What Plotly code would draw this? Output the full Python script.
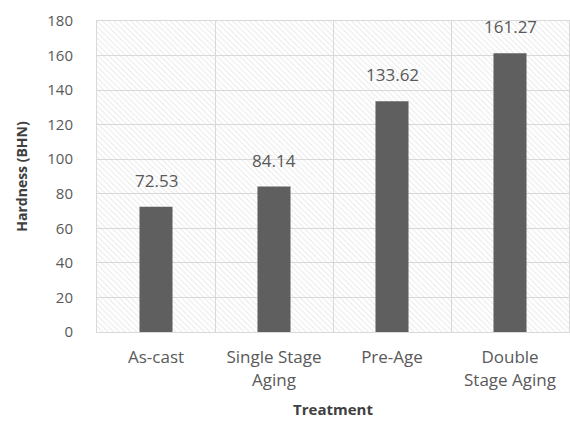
import plotly.graph_objects as go

# Hardness by heat-treatment condition
treatments = ["As-cast", "Single Stage<br>Aging", "Pre-Age", "Double<br>Stage Aging"]
hardness = [72.53, 84.14, 133.62, 161.27]
y_ticks = [0, 20, 40, 60, 80, 100, 120, 140, 160, 180]

y_max = y_ticks[-1]
font_family = "'Open Sans', Lato, sans-serif"
text_grey = "#595959"

fig = go.Figure()

# Hatched plot-area background, one full-width band per category
fig.add_trace(go.Bar(
    x=treatments,
    y=[y_max] * len(treatments),
    width=1,
    marker=dict(
        color="rgba(0,0,0,0)",
        line=dict(width=0),
        pattern=dict(shape="\\", fgcolor="#d2d2d2", bgcolor="rgba(255,255,255,0)",
                     size=4, solidity=0.25),
    ),
    hoverinfo="skip",
    showlegend=False,
))

# Measured hardness bars
fig.add_trace(go.Bar(
    x=treatments,
    y=hardness,
    width=0.28,
    marker=dict(color="#5f5f5f", line=dict(width=0)),
    hoverinfo="x+y",
    showlegend=False,
))

# Value labels above each bar
for cat, val in zip(treatments, hardness):
    fig.add_annotation(
        x=cat, y=val, text=f"{val:.2f}",
        showarrow=False, yanchor="bottom", yshift=13,
        font=dict(family=font_family, size=17, color=text_grey),
    )

fig.update_layout(
    width=570,
    height=428,
    margin=dict(l=97, r=1, t=21, b=96),
    paper_bgcolor="white",
    plot_bgcolor="white",
    barmode="overlay",
    font=dict(family=font_family, size=15, color=text_grey),
    xaxis=dict(
        tickson="boundaries",
        showgrid=True,
        gridcolor="#d9d9d9",
        gridwidth=1,
        showline=True,
        linecolor="#d9d9d9",
        mirror=True,
        ticks="",
        tickfont=dict(size=17, color=text_grey),
        ticklabelstandoff=10,
        title=dict(text="<b>Treatment</b>", font=dict(size=15, color="#404040"), standoff=14),
    ),
    yaxis=dict(
        range=[0, y_max],
        tickvals=y_ticks,
        showgrid=True,
        gridcolor="#d9d9d9",
        gridwidth=1,
        showline=True,
        linecolor="#d9d9d9",
        mirror=True,
        zeroline=False,
        ticks="",
        tickfont=dict(size=15, color=text_grey),
        ticklabelstandoff=20,
        title=dict(text="<b>Hardness (BHN)</b>", font=dict(size=14, color="#404040"), standoff=16),
    ),
)

fig.write_html("out.html")
